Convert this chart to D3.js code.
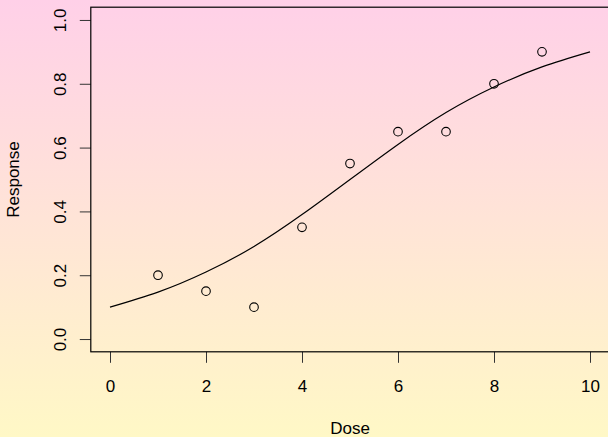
<!doctype html>
<html>
<head>
<meta charset="utf-8">
<script src="https://d3js.org/d3.v7.min.js"></script>
<style>
  body { margin: 0; }
  svg { display: block; font-family: "Liberation Sans", Arial, sans-serif; }
</style>
</head>
<body>
<script>
  // observed points
  var dose = [1, 2, 3, 4, 5, 6, 7, 8, 9];
  var response = [0.2, 0.15, 0.1, 0.35, 0.55, 0.65, 0.65, 0.8, 0.9];
  // fitted curve
  var curveDose = [0, 1, 2, 3, 4, 5, 6, 7, 8, 9, 10];
  var curveResp = [0.10, 0.147, 0.21, 0.29, 0.39, 0.50, 0.61, 0.71, 0.79, 0.853, 0.90];
  // ticks
  var xTicks = [0, 2, 4, 6, 8, 10];
  var yTicks = [0, 0.2, 0.4, 0.6, 0.8, 1.0];

  var width = 608, height = 437;
  var box = { left: 90.8, top: 7.2, right: 609.2, bottom: 351.8 };

  var svg = d3.select("body").append("svg").attr("width", width).attr("height", height);

  // background gradient
  var grad = svg.append("defs").append("linearGradient")
    .attr("id", "bg").attr("x1", 0).attr("y1", 0).attr("x2", 0).attr("y2", 1);
  grad.append("stop").attr("offset", "0%").attr("stop-color", "#ffd0e8");
  grad.append("stop").attr("offset", "100%").attr("stop-color", "#fff8c6");
  svg.append("rect").attr("width", width).attr("height", height).attr("fill", "url(#bg)");

  var x = d3.scaleLinear().domain([-0.4, 10.4]).range([box.left, box.right]);
  var y = d3.scaleLinear().domain([-0.04, 1.04]).range([box.bottom, box.top]);

  // x axis
  var xa = svg.append("g")
    .attr("transform", "translate(0," + box.bottom + ")")
    .call(d3.axisBottom(x).tickValues(xTicks).tickSize(11).tickFormat(d3.format("d")));
  xa.select(".domain").remove();
  xa.selectAll("line").attr("stroke", "#333");
  xa.selectAll("text").attr("dy", null).attr("y", 40).attr("font-size", "17px")
    .attr("fill", "#000").attr("font-family", "Liberation Sans, Arial, sans-serif");

  // y axis
  var ya = svg.append("g")
    .attr("transform", "translate(" + box.left + ",0)")
    .call(d3.axisLeft(y).tickValues(yTicks).tickSize(11).tickFormat(d3.format(".1f")));
  ya.select(".domain").remove();
  ya.selectAll("line").attr("stroke", "#333");
  ya.selectAll("text")
    .attr("x", null).attr("dy", null)
    .attr("text-anchor", "middle")
    .attr("transform", "translate(-25,0) rotate(-90)")
    .attr("font-size", "17px").attr("fill", "#000")
    .attr("font-family", "Liberation Sans, Arial, sans-serif");

  // frame
  svg.append("rect")
    .attr("x", box.left).attr("y", box.top)
    .attr("width", box.right - box.left).attr("height", box.bottom - box.top)
    .attr("fill", "none").attr("stroke", "#000").attr("stroke-width", 1.2);

  // curve
  var line = d3.line()
    .x(function(d, i) { return x(curveDose[i]); })
    .y(function(d) { return y(d); })
    .curve(d3.curveNatural);
  svg.append("path")
    .attr("d", line(curveResp))
    .attr("fill", "none").attr("stroke", "#000").attr("stroke-width", 1.2);

  // points
  svg.selectAll("circle.pt").data(response).enter().append("circle")
    .attr("class", "pt")
    .attr("cx", function(d, i) { return x(dose[i]); })
    .attr("cy", function(d) { return y(d); })
    .attr("r", 4.3)
    .attr("fill", "none").attr("stroke", "#000").attr("stroke-width", 1.1);

  // axis titles
  svg.append("text")
    .attr("x", (box.left + box.right) / 2).attr("y", 434)
    .attr("text-anchor", "middle").attr("font-size", "17px")
    .text("Dose");
  svg.append("text")
    .attr("transform", "translate(19," + (box.top + box.bottom) / 2 + ") rotate(-90)")
    .attr("text-anchor", "middle").attr("font-size", "17px")
    .text("Response");
</script>
</body>
</html>
